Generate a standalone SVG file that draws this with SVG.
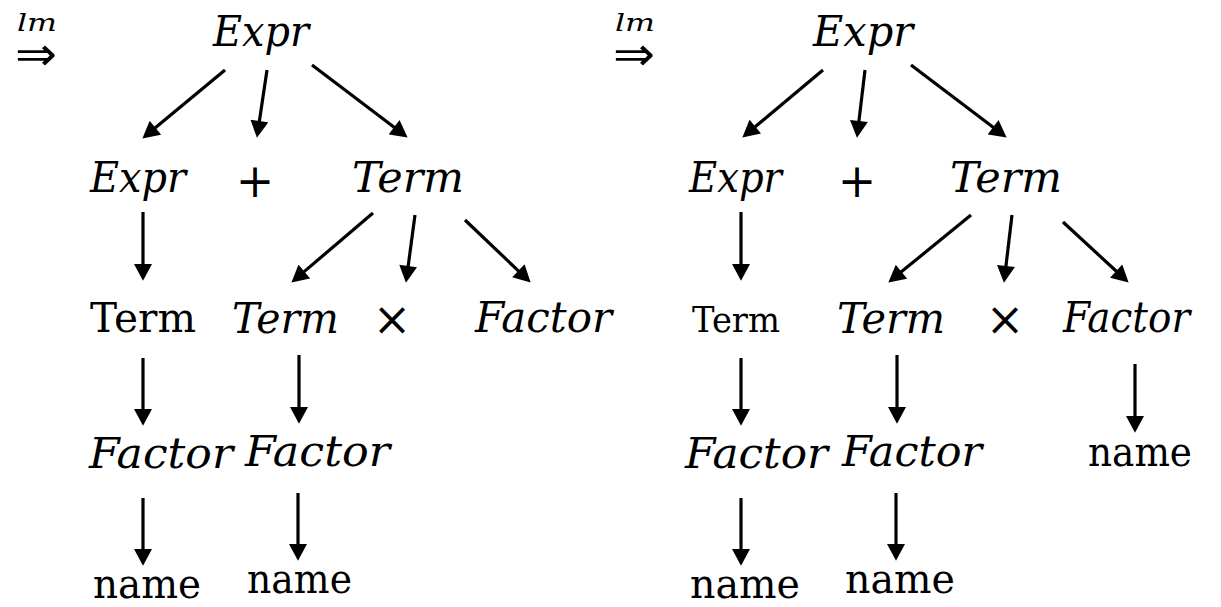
<svg xmlns="http://www.w3.org/2000/svg" width="1221" height="607" viewBox="0 0 1221 607">
  <style>
    .v { font-family: "DejaVu Serif", "Liberation Serif", serif; font-style: italic; font-size: 42px; fill: #000; }
    .t { font-family: "DejaVu Serif", "Liberation Serif", serif; font-size: 41px; fill: #000; }
    .op { font-family: "DejaVu Serif", "Liberation Serif", serif; font-size: 46px; fill: #000; text-anchor: middle; }
    .sm { font-family: "DejaVu Serif", "Liberation Serif", serif; font-style: italic; font-size: 25px; fill: #000; }
    .imp { font-family: "DejaVu Sans", "Liberation Sans", sans-serif; font-size: 46px; fill: #000; }
    .edge { stroke: #000; stroke-width: 3.2; fill: none; marker-end: url(#head); }
  </style>
  <defs>
    <marker id="head" markerUnits="userSpaceOnUse" markerWidth="18" markerHeight="18" viewBox="0 0 16 17" refX="2" refY="8.5" orient="auto">
      <path d="M0,0 L16,8.5 L0,17 z" fill="#000"/>
    </marker>
  </defs>

  <!-- first derivation step -->
  <g id="step1-symbol">
    <text class="sm" x="17" y="31" textLength="40" lengthAdjust="spacingAndGlyphs">lm</text>
    <text class="imp" x="15" y="70" textLength="42" lengthAdjust="spacingAndGlyphs">⇒</text>
  </g>
  <g id="a-expr-root"><text class="v" x="213" y="46" textLength="96" lengthAdjust="spacingAndGlyphs">Expr</text></g>
  <g id="a-expr"><text class="v" x="90" y="192" textLength="96" lengthAdjust="spacingAndGlyphs">Expr</text></g>
  <g id="a-plus"><text class="op" x="255" y="197">+</text></g>
  <g id="a-term"><text class="v" x="352" y="192" textLength="112" lengthAdjust="spacingAndGlyphs">Term</text></g>
  <g id="a-term-up"><text class="t" x="90" y="332" textLength="106" lengthAdjust="spacingAndGlyphs">Term</text></g>
  <g id="a-term2"><text class="v" x="232" y="333" textLength="107" lengthAdjust="spacingAndGlyphs">Term</text></g>
  <g id="a-times"><text class="op" x="392" y="335">×</text></g>
  <g id="a-factor"><text class="v" x="475" y="332" textLength="137" lengthAdjust="spacingAndGlyphs">Factor</text></g>
  <g id="a-factor1"><text class="v" x="89" y="468" textLength="144" lengthAdjust="spacingAndGlyphs">Factor</text></g>
  <g id="a-factor2"><text class="v" x="245" y="466" textLength="145" lengthAdjust="spacingAndGlyphs">Factor</text></g>
  <g id="a-name1"><text class="t" x="93" y="598" textLength="108" lengthAdjust="spacingAndGlyphs">name</text></g>
  <g id="a-name2"><text class="t" x="247" y="593" textLength="105" lengthAdjust="spacingAndGlyphs">name</text></g>

  <!-- second derivation step -->
  <g id="step2-symbol">
    <text class="sm" x="615" y="31" textLength="40" lengthAdjust="spacingAndGlyphs">lm</text>
    <text class="imp" x="613" y="70" textLength="42" lengthAdjust="spacingAndGlyphs">⇒</text>
  </g>
  <g id="b-expr-root"><text class="v" x="813" y="46" textLength="100" lengthAdjust="spacingAndGlyphs">Expr</text></g>
  <g id="b-expr"><text class="v" x="689" y="192" textLength="93" lengthAdjust="spacingAndGlyphs">Expr</text></g>
  <g id="b-plus"><text class="op" x="857" y="197">+</text></g>
  <g id="b-term"><text class="v" x="950" y="192" textLength="112" lengthAdjust="spacingAndGlyphs">Term</text></g>
  <g id="b-term-up"><text class="t" x="692" y="332" style="font-size:36px" textLength="88" lengthAdjust="spacingAndGlyphs">Term</text></g>
  <g id="b-term2"><text class="v" x="837" y="333" textLength="108" lengthAdjust="spacingAndGlyphs">Term</text></g>
  <g id="b-times"><text class="op" x="1005" y="335">×</text></g>
  <g id="b-factor"><text class="v" x="1063" y="332" textLength="127" lengthAdjust="spacingAndGlyphs">Factor</text></g>
  <g id="b-factor1"><text class="v" x="685" y="468" textLength="143" lengthAdjust="spacingAndGlyphs">Factor</text></g>
  <g id="b-factor2"><text class="v" x="842" y="466" textLength="140" lengthAdjust="spacingAndGlyphs">Factor</text></g>
  <g id="b-name3"><text class="t" x="1088" y="466" textLength="104" lengthAdjust="spacingAndGlyphs">name</text></g>
  <g id="b-name1"><text class="t" x="690" y="598" textLength="110" lengthAdjust="spacingAndGlyphs">name</text></g>
  <g id="b-name2"><text class="t" x="845" y="593" textLength="110" lengthAdjust="spacingAndGlyphs">name</text></g>

  <g id="connectors">
    <!-- first tree -->
    <line class="edge" x1="225" y1="70" x2="153.8" y2="129.1"/>
    <line class="edge" x1="267" y1="70" x2="259.1" y2="123.1"/>
    <line class="edge" x1="312" y1="65" x2="395.8" y2="128.5"/>
    <line class="edge" x1="143" y1="212" x2="143" y2="266"/>
    <line class="edge" x1="373" y1="213" x2="302.7" y2="272.9"/>
    <line class="edge" x1="415" y1="215" x2="407.9" y2="268.1"/>
    <line class="edge" x1="465" y1="220" x2="519.9" y2="272.3"/>
    <line class="edge" x1="143" y1="358" x2="143" y2="411"/>
    <line class="edge" x1="299" y1="355" x2="299" y2="409"/>
    <line class="edge" x1="143" y1="498" x2="143" y2="551"/>
    <line class="edge" x1="298" y1="493" x2="298" y2="546"/>
    <!-- second tree -->
    <line class="edge" x1="823" y1="70" x2="753.7" y2="128"/>
    <line class="edge" x1="865" y1="70" x2="858.7" y2="123.1"/>
    <line class="edge" x1="911" y1="65" x2="994.8" y2="128.5"/>
    <line class="edge" x1="741" y1="212" x2="741" y2="266"/>
    <line class="edge" x1="971" y1="215" x2="899.8" y2="273.1"/>
    <line class="edge" x1="1012" y1="215" x2="1005.7" y2="268.1"/>
    <line class="edge" x1="1063" y1="222" x2="1117.7" y2="272.5"/>
    <line class="edge" x1="741" y1="358" x2="741" y2="411"/>
    <line class="edge" x1="897" y1="355" x2="897" y2="409"/>
    <line class="edge" x1="741" y1="498" x2="741" y2="551"/>
    <line class="edge" x1="896" y1="493" x2="896" y2="546"/>
    <line class="edge" x1="1135" y1="364" x2="1135" y2="418"/>
  </g>
</svg>
